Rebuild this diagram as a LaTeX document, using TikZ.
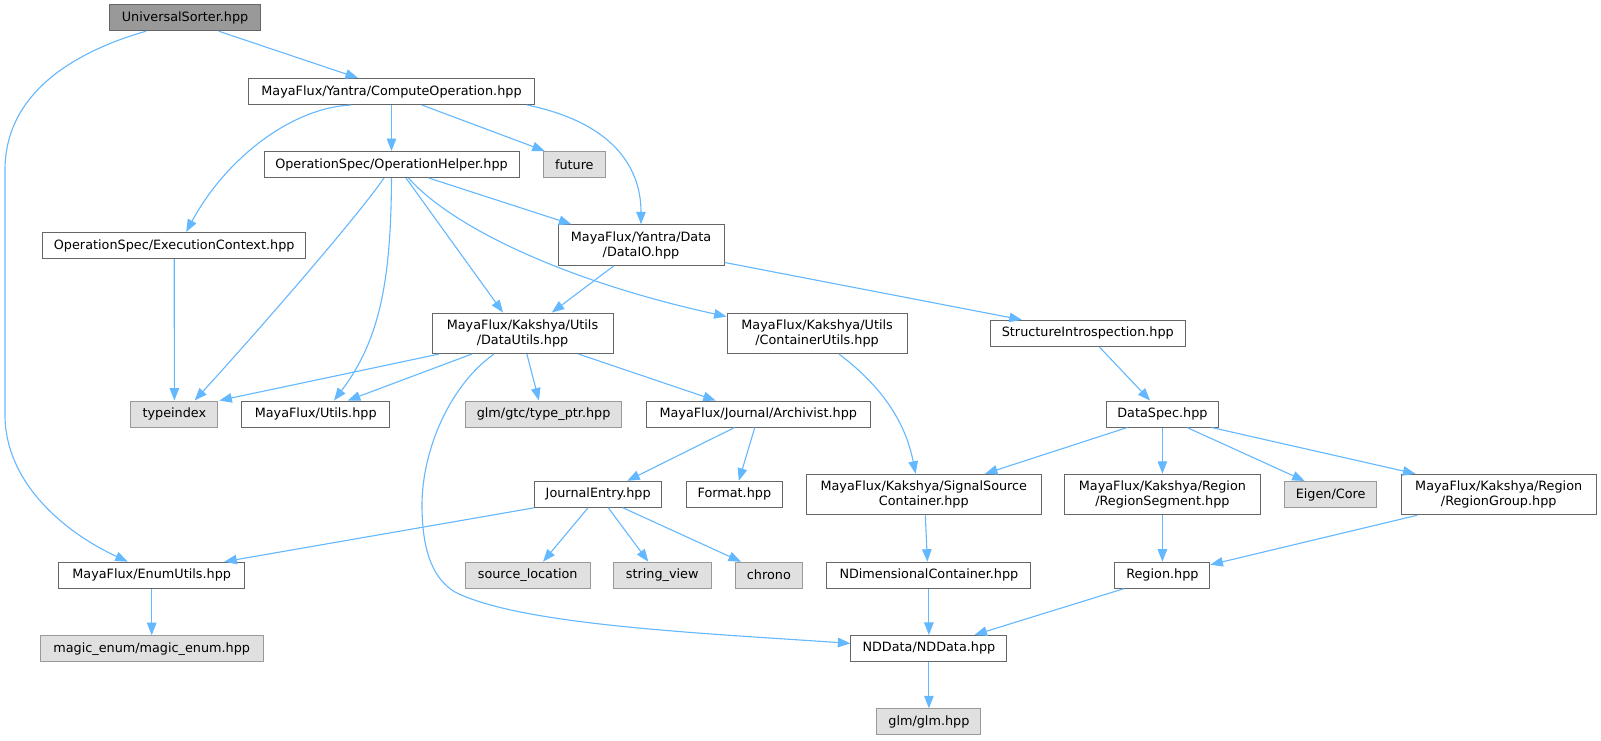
\documentclass[tikz,border=0pt]{standalone}
\usepackage{fontspec}
\setmainfont{DejaVu Sans}
\usetikzlibrary{arrows.meta}
\definecolor{edgec}{HTML}{63B8FF}
\definecolor{bord}{HTML}{666666}
\definecolor{sysfill}{HTML}{E0E0E0}
\definecolor{sysbord}{HTML}{999999}
\definecolor{mainfill}{HTML}{999999}
\begin{document}
\begin{tikzpicture}[x=1pt,y=-1pt,
 box/.style={draw=bord, line width=1pt, fill=white, inner sep=0pt, minimum height=26pt,
   font=\fontsize{12.8}{15}\selectfont, align=center, text=black},
 box2/.style={box, minimum height=40.5pt},
 sys/.style={box, draw=sysbord, fill=sysfill},
 mainbox/.style={box, fill=mainfill},
 dep/.style={draw=edgec, line width=1.1pt, -{Triangle[length=12.5pt,width=9.5pt]}}]
\fill[white] (0,0) rectangle (1601,740);
\useasboundingbox (0,0) rectangle (1601,740);

% nodes
\node[mainbox, minimum width=151pt] (us) at (185.1,17.7) {UniversalSorter.hpp};
\node[box, minimum width=286pt] (co) at (391.5,91.5) {MayaFlux/Yantra/ComputeOperation.hpp};
\node[box, minimum width=255pt] (oh) at (391.5,164.5) {OperationSpec/OperationHelper.hpp};
\node[sys, minimum width=62pt] (fut) at (574.3,164.5) {future};
\node[box, minimum width=263pt] (ec) at (174.2,245.5) {OperationSpec/ExecutionContext.hpp};
\node[box2, minimum width=166pt] (dio) at (641,245) {MayaFlux/Yantra/Data\\/DataIO.hpp};
\node[box2, minimum width=181pt] (du) at (522.5,333.3) {MayaFlux/Kakshya/Utils\\/DataUtils.hpp};
\node[box2, minimum width=180pt] (cu) at (817.1,333.3) {MayaFlux/Kakshya/Utils\\/ContainerUtils.hpp};
\node[box, minimum width=195pt] (si) at (1087.8,333.3) {StructureIntrospection.hpp};
\node[sys, minimum width=87pt] (ti) at (174.4,414) {typeindex};
\node[box, minimum width=148pt] (ut) at (315.7,414) {MayaFlux/Utils.hpp};
\node[sys, minimum width=156pt] (gtc) at (543.6,414) {glm/gtc/type\_ptr.hpp};
\node[box, minimum width=224pt] (ar) at (758.3,414) {MayaFlux/Journal/Archivist.hpp};
\node[box, minimum width=112.5pt] (ds) at (1162.4,414) {DataSpec.hpp};
\node[box, minimum width=127pt] (je) at (598.2,494.3) {JournalEntry.hpp};
\node[box, minimum width=96pt] (fmt) at (734.4,494.3) {Format.hpp};
\node[box2, minimum width=234.4pt] (ss) at (923.8,494.5) {MayaFlux/Kakshya/SignalSource\\Container.hpp};
\node[box2, minimum width=195.3pt] (rs) at (1162.4,494.5) {MayaFlux/Kakshya/Region\\/RegionSegment.hpp};
\node[sys, minimum width=92.4pt] (eig) at (1330.6,494.5) {Eigen/Core};
\node[box2, minimum width=195.4pt] (rg) at (1498.7,494.5) {MayaFlux/Kakshya/Region\\/RegionGroup.hpp};
\node[box, minimum width=185.6pt] (eu) at (151.7,575.2) {MayaFlux/EnumUtils.hpp};
\node[sys, minimum width=125pt] (sl) at (527.7,575.2) {source\_location};
\node[sys, minimum width=97.6pt] (sv) at (662.2,575.2) {string\_view};
\node[sys, minimum width=67pt] (chr) at (768.9,575.2) {chrono};
\node[box, minimum width=204pt] (ndc) at (928.9,575.2) {NDimensionalContainer.hpp};
\node[box, minimum width=95pt] (reg) at (1162.4,575.2) {Region.hpp};
\node[sys, minimum width=222.8pt] (me) at (151.7,648.7) {magic\_enum/magic\_enum.hpp};
\node[box, minimum width=156pt] (nd) at (928.9,648.4) {NDData/NDData.hpp};
\node[sys, minimum width=104pt] (glm) at (928.9,721.8) {glm/glm.hpp};

% edges
\draw[dep] ([xshift=33.6pt]us.south) -- ([xshift=-33.5pt]co.north);
\draw[dep] ([xshift=-39pt]us.south) .. controls (80,50) and (5,90) .. (5,170)
   -- (5,415) .. controls (5,480) and (60,530) .. ([xshift=-24pt]eu.north);
\draw[dep] ([xshift=-40.5pt]co.south) .. controls (290,108) and (225,160) .. ([xshift=12pt]ec.north);
\draw[dep] (co.south) -- (oh.north);
\draw[dep] ([xshift=30.3pt]co.south) -- ([xshift=2pt]fut.north west);
\draw[dep] ([xshift=135.5pt]co.south) .. controls (610,122) and (641,165) .. (dio.north);
\draw[dep] ([xshift=-7.5pt]oh.south) .. controls (355,220) and (250,340) .. ([xshift=20.2pt]ti.north);
\draw[dep] (oh.south) .. controls (391,280) and (380,340) .. ([xshift=18.3pt]ut.north);
\draw[dep] ([xshift=14.5pt]oh.south) -- ([xshift=-19.5pt]du.north);
\draw[dep] ([xshift=17pt]oh.south) .. controls (450,225) and (560,280) .. ([yshift=-4pt]cu.north west);
\draw[dep] ([xshift=37.2pt]oh.south) -- ([xshift=-69.6pt]dio.north);
\draw[dep] (ec.south) -- (ti.north);
\draw[dep] ([xshift=-27pt]dio.south) -- ([xshift=29.3pt]du.north);
\draw[dep] ([yshift=3.3pt]dio.south east) -- ([xshift=-66pt]si.north);
\draw[dep] ([xshift=-83.5pt]du.south) -- ([xshift=1pt]ti.north east);
\draw[dep] ([xshift=-50.7pt]du.south) -- ([xshift=32.1pt]ut.north);
\draw[dep] ([xshift=4.4pt]du.south) -- ([xshift=-4.7pt]gtc.north);
\draw[dep] ([xshift=56pt]du.south) -- ([xshift=-42.6pt]ar.north);
\draw[dep] ([xshift=-28.5pt]du.south) .. controls (450,385) and (422,450) .. (422,505)
   .. controls (422,555) and (435,580) .. (455,592)
   .. controls (520,625) and (700,633) .. ([yshift=5pt]nd.west);
\draw[dep] ([xshift=-23.7pt]ar.south) -- ([xshift=29.1pt]je.north);
\draw[dep] ([xshift=-3.5pt]ar.south) -- ([xshift=4.4pt]fmt.north);
\draw[dep] (je.south west) -- ([xshift=-20.7pt]eu.north east);
\draw[dep] ([xshift=-10.2pt]je.south) -- ([xshift=15.3pt]sl.north);
\draw[dep] ([xshift=10.1pt]je.south) -- ([xshift=-13.9pt]sv.north);
\draw[dep] ([xshift=24.8pt]je.south) -- ([xshift=-27.9pt]chr.north);
\draw[dep] (eu.south) -- (me.north);
\draw[dep] ([xshift=21.9pt]cu.south) .. controls (880,385) and (905,420) .. ([xshift=-8.2pt]ss.north);
\draw[dep] ([xshift=1.5pt]ss.south) -- ([xshift=-1.5pt]ndc.north);
\draw[dep] (ndc.south) -- (nd.north);
\draw[dep] (nd.south) -- (glm.north);
\draw[dep] ([xshift=-38.6pt]reg.south) -- ([xshift=45.6pt]nd.north);
\draw[dep] ([xshift=11.4pt]si.south) -- ([xshift=-12.3pt]ds.north);
\draw[dep] ([xshift=-35.1pt]ds.south) -- ([xshift=61.2pt]ss.north);
\draw[dep] (ds.south) -- (rs.north);
\draw[dep] ([xshift=24.6pt]ds.south) -- ([xshift=-25.9pt]eig.north);
\draw[dep] ([xshift=49.2pt]ds.south) -- ([xshift=-83.3pt]rg.north);
\draw[dep] (rs.south) -- (reg.north);
\draw[dep] ([xshift=-81.5pt]rg.south) -- ([yshift=-3pt]reg.north east);
\end{tikzpicture}
\end{document}
